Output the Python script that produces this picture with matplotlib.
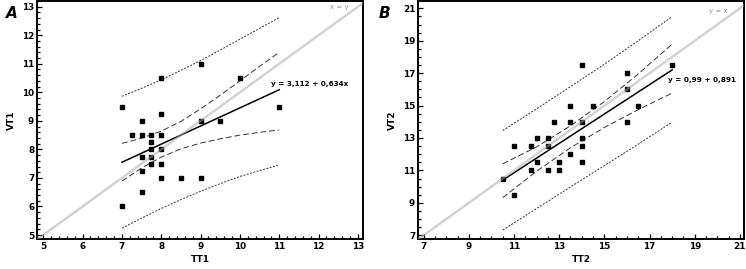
import numpy as np
import matplotlib.pyplot as plt
from matplotlib.ticker import FixedLocator, MultipleLocator

# panel A data
tt1 = [7, 7, 7.25, 7.5, 7.5, 7.5, 7.5, 7.5, 7.75, 7.75, 7.75, 7.75, 7.75,
       8, 8, 8, 8, 8, 8, 8.5, 9, 9, 9, 9.5, 10, 11]
vt1 = [9.5, 6, 8.5, 9, 8.5, 7.75, 7.25, 6.5, 8.5, 8.25, 8, 7.75, 7.5,
       10.5, 9.25, 8.5, 8, 7.5, 7, 7, 11, 9, 7, 9, 10.5, 9.5]
fit1_x = [7, 11]
fit1_y = [7.55, 10.09]
band1_x = [7, 7.5, 8, 8.5, 9, 9.5, 10, 10.5, 11]
ci1_up = [8.21, 8.39, 8.64, 8.98, 9.42, 9.90, 10.40, 10.91, 11.40]
ci1_lo = [6.89, 7.35, 7.73, 8.02, 8.22, 8.37, 8.50, 8.60, 8.68]
pi1_up = [9.86, 10.14, 10.44, 10.77, 11.11, 11.48, 11.86, 12.24, 12.62]
pi1_lo = [5.24, 5.59, 5.93, 6.24, 6.53, 6.80, 7.05, 7.26, 7.45]
ticks1 = [5, 6, 7, 8, 9, 10, 11, 12, 13]

# panel B data
tt2 = [10.5, 11, 11, 11.75, 11.75, 12, 12, 12.5, 12.5, 12.5, 12.75, 13, 13,
       13.5, 13.5, 13.5, 14, 14, 14, 14, 14, 14.5, 16, 16, 16, 16.5, 18]
vt2 = [10.5, 12.5, 9.5, 12.5, 11, 13, 11.5, 13, 12.5, 11, 14, 11.5, 11,
       15, 14, 12, 17.5, 14, 13, 12.5, 11.5, 15, 17, 16, 14, 15, 17.5]
fit2_x = [10.5, 18]
fit2_y = [10.4, 17.2]
band2_x = [10.5, 12, 13.5, 15, 16.5, 18]
ci2_up = [11.41, 12.45, 13.75, 15.25, 16.95, 18.79]
ci2_lo = [9.32, 10.95, 12.40, 13.65, 14.75, 15.77]
pi2_up = [13.46, 14.80, 16.17, 17.55, 19.00, 20.49]
pi2_lo = [7.32, 8.65, 9.98, 11.30, 12.62, 13.98]
ticks2 = [7, 9, 11, 13, 15, 17, 19, 21]

fig = plt.figure(figsize=(7.46, 2.69), dpi=100)
W, H = 746, 269


def panel(rect, x, y, fx, fy, bx, cu, cl, pu, pl, lim, xl, yl, ticks, minor,
          eq, eqpos, idtext, idpos, letter):
    l, r, t, b = rect
    ax = fig.add_axes([l / W, 1 - b / H, (r - l) / W, (b - t) / H])
    ax.plot(x, y, 's', color='black', ms=3.2, zorder=3)
    ax.plot(fx, fy, color='black', lw=1.1, zorder=4)
    ax.plot(bx, cu, color='#333333', lw=0.7, dashes=(6, 3), zorder=2)
    ax.plot(bx, cl, color='#333333', lw=0.7, dashes=(6, 3), zorder=2)
    ax.plot(bx, pu, color='#333333', lw=0.7, dashes=(2, 1.5), zorder=2)
    ax.plot(bx, pl, color='#333333', lw=0.7, dashes=(2, 1.5), zorder=2)
    ax.plot([0, 30], [0, 30], color='#a8a8a8', lw=1.8, alpha=0.5, zorder=5)
    ax.set_xlim(lim[0], lim[1])
    ax.set_ylim(lim[2], lim[3])
    ax.xaxis.set_major_locator(FixedLocator(ticks))
    ax.yaxis.set_major_locator(FixedLocator(ticks))
    ax.xaxis.set_minor_locator(MultipleLocator(minor))
    ax.yaxis.set_minor_locator(MultipleLocator(minor))
    ax.tick_params(which='both', direction='in', width=0.9, labelsize=6.4, pad=2)
    ax.tick_params(which='major', length=3.5)
    ax.tick_params(which='minor', length=2)
    for lab in ax.get_xticklabels() + ax.get_yticklabels():
        lab.set_fontweight('bold')
    for s in ax.spines.values():
        s.set_linewidth(1.4)
    ax.set_xlabel(xl, fontsize=6.5, fontweight='bold', labelpad=3)
    ax.set_ylabel(yl, fontsize=6.5, fontweight='bold', labelpad=4)
    ax.text(eqpos[0], eqpos[1], eq, fontsize=5.2, fontweight='bold', va='center')
    ax.text(idpos[0], idpos[1], idtext, fontsize=5, color='#999999', va='center')
    fig.text(letter[0] / W, 1 - letter[1] / H, letter[2], fontsize=11,
             fontweight='bold', fontstyle='italic', va='center', ha='center')
    return ax


panel((37, 363, 1, 239), tt1, vt1, fit1_x, fit1_y, band1_x, ci1_up, ci1_lo,
      pi1_up, pi1_lo, (4.84, 13.13, 4.86, 13.2), 'TT1', 'VT1', ticks1, 0.2,
      'y = 3,112 + 0,634x', (10.8, 10.3), 'x = y', (12.3, 13.0),
      (12, 13, 'A'))
panel((418, 744, 1, 239), tt2, vt2, fit2_x, fit2_y, band2_x, ci2_up, ci2_lo,
      pi2_up, pi2_lo, (6.75, 21.18, 6.77, 21.45), 'TT2', 'VT2', ticks2, 0.5,
      'y = 0,99 + 0,891', (17.8, 16.55), 'y = x', (19.65, 20.85),
      (384, 14, 'B'))

fig.savefig('out.png', dpi=100)
